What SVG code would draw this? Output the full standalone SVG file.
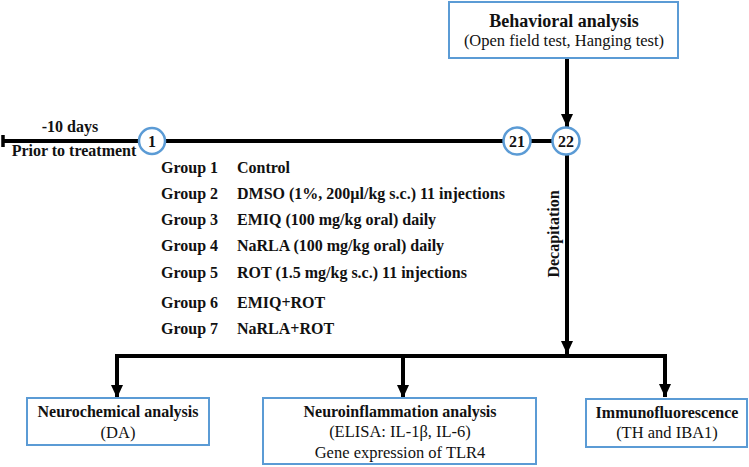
<svg xmlns="http://www.w3.org/2000/svg" width="749" height="467" viewBox="0 0 749 467">
<defs>
<style>
.b{font-family:"Liberation Serif","Times New Roman",serif;font-weight:bold;font-size:16px;fill:#111}
.r{font-family:"Liberation Serif","Times New Roman",serif;font-size:16.5px;fill:#111}
.box{fill:#fff;stroke:#5b9bd5;stroke-width:2}
.circ{fill:#fff;stroke:#5b9bd5;stroke-width:2.5}
.ln{stroke:#000;stroke-width:4;fill:none}
</style>
<marker id="ah" markerUnits="userSpaceOnUse" markerWidth="14" markerHeight="14" viewBox="0 0 14 14" refX="13" refY="7" orient="auto">
<path d="M0,1 L13,7 L0,13 Z" fill="#000"/>
</marker>
</defs>
<rect width="749" height="467" fill="#fff"/>

<g id="connectors">
<line class="ln" x1="3" y1="141" x2="553" y2="141"/>
<line x1="3" y1="135" x2="3" y2="147" stroke="#000" stroke-width="3.5"/>
<line class="ln" x1="567" y1="58" x2="567" y2="127" marker-end="url(#ah)"/>
<line class="ln" x1="567" y1="155" x2="567" y2="354" marker-end="url(#ah)"/>
<polyline class="ln" points="117,398 117,356 665,356 665,397"/>
<line class="ln" x1="117" y1="356" x2="117" y2="398" marker-end="url(#ah)"/>
<line class="ln" x1="403" y1="356" x2="403" y2="398" marker-end="url(#ah)"/>
<line class="ln" x1="665" y1="356" x2="665" y2="397" marker-end="url(#ah)"/>
<text class="b" transform="translate(559,234) rotate(-90)" text-anchor="middle">Decapitation</text>
</g>

<g id="timeline-labels">
<text class="b" x="70" y="132" text-anchor="middle">-10 days</text>
<text class="b" x="74" y="156" text-anchor="middle">Prior to treatment</text>
</g>

<g id="day1">
<circle class="circ" cx="152" cy="141" r="13"/>
<text class="b" x="152" y="147" text-anchor="middle">1</text>
</g>
<g id="day21">
<circle class="circ" cx="517" cy="141" r="13.5"/>
<text class="b" x="517" y="147" text-anchor="middle">21</text>
</g>
<g id="day22">
<circle class="circ" cx="566" cy="141" r="13.5"/>
<text class="b" x="566" y="147" text-anchor="middle">22</text>
</g>

<g id="behavioral">
<rect class="box" x="449" y="2" width="229" height="56"/>
<text class="b" x="564" y="27" text-anchor="middle" style="font-size:18px">Behavioral analysis</text>
<text class="r" x="564" y="46" text-anchor="middle">(Open field test, Hanging test)</text>
</g>

<g id="groups">
<text class="b" x="161" y="173">Group 1</text><text class="b" x="237" y="173">Control</text>
<text class="b" x="161" y="199">Group 2</text><text class="b" x="237" y="199">DMSO (1%, 200µl/kg s.c.) 11 injections</text>
<text class="b" x="161" y="225">Group 3</text><text class="b" x="237" y="225">EMIQ (100 mg/kg oral) daily</text>
<text class="b" x="161" y="251">Group 4</text><text class="b" x="237" y="251">NaRLA (100 mg/kg oral) daily</text>
<text class="b" x="161" y="278">Group 5</text><text class="b" x="237" y="278">ROT (1.5 mg/kg s.c.) 11 injections</text>
<text class="b" x="161" y="308">Group 6</text><text class="b" x="237" y="308">EMIQ+ROT</text>
<text class="b" x="161" y="334">Group 7</text><text class="b" x="237" y="334">NaRLA+ROT</text>
</g>

<g id="neurochemical">
<rect class="box" x="27" y="398" width="182" height="47"/>
<text class="b" x="118" y="417" text-anchor="middle">Neurochemical analysis</text>
<text class="r" x="118" y="438" text-anchor="middle">(DA)</text>
</g>

<g id="neuroinflammation">
<rect class="box" x="263" y="398" width="273" height="66"/>
<text class="b" x="400" y="417" text-anchor="middle">Neuroinflammation analysis</text>
<text class="r" x="400" y="437" text-anchor="middle">(ELISA: IL-1β, IL-6)</text>
<text class="r" x="400" y="458" text-anchor="middle">Gene expression of TLR4</text>
</g>

<g id="immunofluorescence">
<rect class="box" x="586" y="399" width="161" height="48"/>
<text class="b" x="667" y="418" text-anchor="middle">Immunofluorescence</text>
<text class="r" x="667" y="438" text-anchor="middle">(TH and IBA1)</text>
</g>
</svg>
